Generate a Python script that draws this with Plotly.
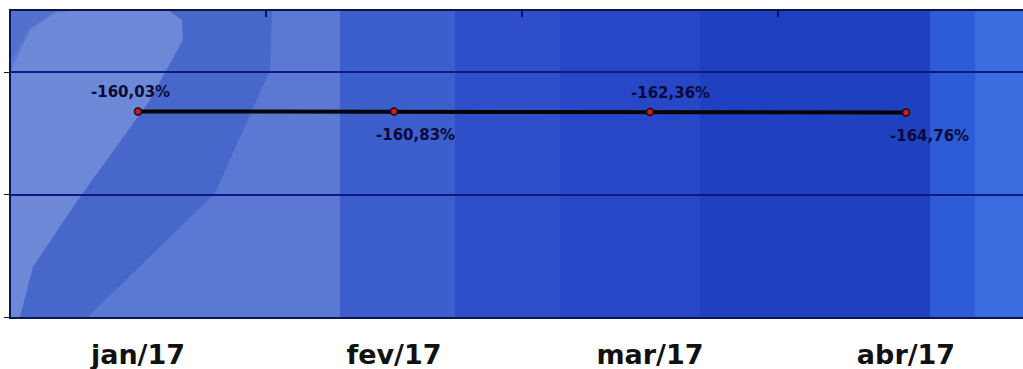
import plotly.graph_objects as go

# Monthly series
months = ["jan/17", "fev/17", "mar/17", "abr/17"]
values = [-160.03, -160.83, -162.36, -164.76]
# label offsets (pixels) relative to each point
label_dx = [-7, 22, 20, 23]
label_dy = [19, -23, 19, -23]

W, H = 1023, 369
PL, PR, PT, PB = 11, 1023, 11, 317  # plot area in pixels
XR = [-0.496, 3.457]


def px(x):
    return (x - PL) / (PR - PL)


def py(y):
    return (PB - y) / (PB - PT)


def rect(x0, x1, color):
    return dict(type="rect", xref="paper", yref="paper", layer="below",
                x0=px(x0), x1=px(x1), y0=0, y1=1,
                fillcolor=color, line=dict(width=0))


def poly(points, color):
    d = "M " + " L ".join(f"{px(x):.4f},{py(y):.4f}" for x, y in points) + " Z"
    return dict(type="path", xref="paper", yref="paper", layer="below",
                path=d, fillcolor=color, line=dict(width=0))


shapes = [
    rect(11, 340, "#5b79d2"),
    rect(340, 455, "#3d5ecd"),
    rect(455, 560, "#2e4fc9"),
    rect(560, 700, "#2747c6"),
    rect(700, 930, "#2040c2"),
    rect(930, 975, "#2d5cd6"),
    rect(975, 1023, "#3a6cdf"),
    # light rounded region on the left
    poly([(11, 70), (30, 30), (55, 13), (70, 11), (170, 11), (182, 20),
          (183, 40), (150, 100), (78, 200), (33, 267), (20, 317), (11, 317)],
         "#6d88d6"),
    # darker diagonal band
    poly([(183, 40), (182, 20), (170, 11), (272, 11), (270, 70), (215, 193),
          (88, 317), (20, 317), (33, 267), (78, 200), (150, 100)], "#4767cb"),
    # darker top-left corner
    poly([(11, 11), (55, 11), (30, 28), (11, 60)], "#5270cc"),
]

label_font = dict(family="DejaVu Sans", size=15, color="#0a0a38", weight="bold")
annotations = [
    dict(x=m, y=v, xref="x", yref="y", showarrow=False,
         text=f"{v:.2f}".replace(".", ",") + "%",
         xshift=dx, yshift=dy, font=label_font)
    for m, v, dx, dy in zip(months, values, label_dx, label_dy)
]

fig = go.Figure()
fig.add_trace(go.Scatter(
    x=months, y=values, mode="lines+markers",
    line=dict(color="#050505", width=4),
    marker=dict(size=7, color="#c81e1e", line=dict(color="#200808", width=1.5)),
    cliponaxis=False, showlegend=False,
))
# invisible copy on the top axis so its boundary ticks are drawn
fig.add_trace(go.Scatter(
    x=months, y=values, xaxis="x2", mode="lines", opacity=0,
    hoverinfo="skip", showlegend=False,
))

fig.update_layout(
    width=W, height=H,
    margin=dict(l=PL, r=W - PR, t=PT, b=H - PB, autoexpand=False),
    paper_bgcolor="white", plot_bgcolor="#2a4bc8",
    shapes=shapes, annotations=annotations,
    xaxis=dict(
        type="category", range=XR,
        showgrid=False, zeroline=False,
        showline=True, linecolor="#0a1450", linewidth=2, mirror=True,
        ticks="", tickfont=dict(family="DejaVu Sans", size=27, color="#111111", weight="bold"),
        ticklabelstandoff=13,
    ),
    xaxis2=dict(
        type="category", overlaying="x", side="top", range=XR,
        tickson="boundaries",
        ticks="inside", ticklen=6, tickcolor="#0a1450", tickwidth=1.5,
        showticklabels=False, showgrid=False, zeroline=False,
    ),
    yaxis=dict(
        range=[-1000, 250], dtick=500, tick0=0,
        showgrid=True, gridcolor="#0d1a85", gridwidth=2,
        zeroline=False, showticklabels=False,
        ticks="outside", ticklen=5, tickcolor="#0a1450",
        showline=True, linecolor="#0a1450", linewidth=2,
    ),
)

fig.write_html("out.html")
